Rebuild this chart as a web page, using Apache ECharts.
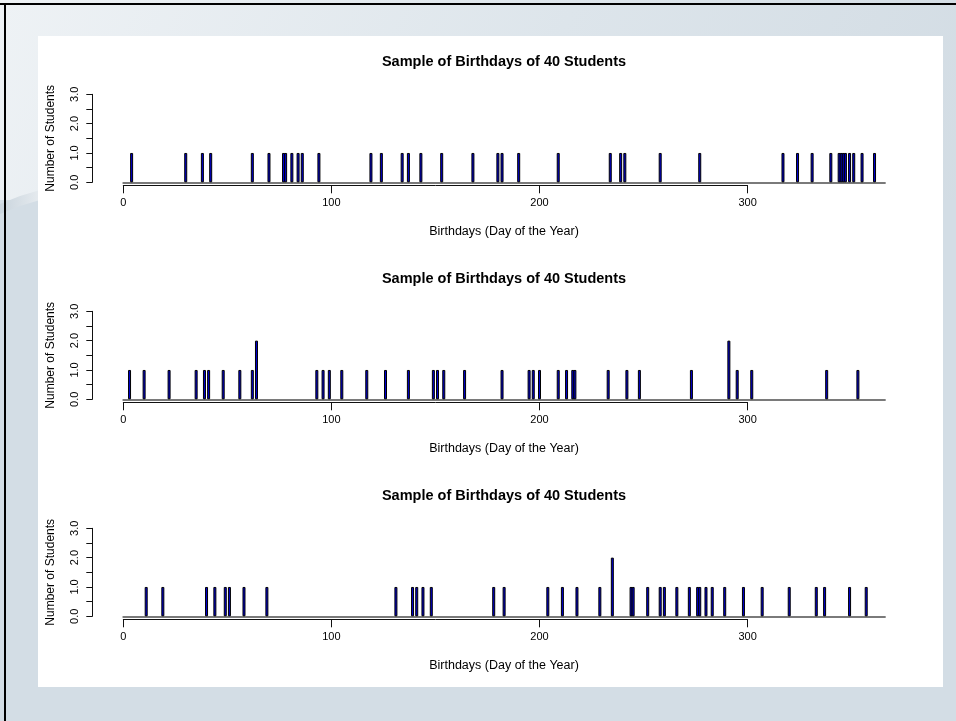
<!DOCTYPE html>
<html>
<head>
<meta charset="utf-8">
<script src="https://cdn.jsdelivr.net/npm/echarts@6/dist/echarts.min.js"></script>
<style>
html,body{margin:0;padding:0;background:#fff;}
#chart{width:956px;height:721px;}
</style>
</head>
<body>
<div id="chart"></div>
<script>
// ---- data: birthdays (day of year) of three samples of 40 students ----
const sample1Days = [4, 30, 38, 42, 62, 70, 77, 78, 81, 84, 86, 94, 119, 124, 134, 137, 143, 153, 168, 180, 182, 190, 209, 234, 239, 241, 258, 277, 317, 324, 331, 340, 344, 345, 346, 347, 349, 351, 355, 361];
const sample2Days = [3, 10, 22, 35, 39, 41, 48, 56, 62, 64, 64, 93, 96, 99, 105, 117, 126, 137, 149, 151, 154, 164, 182, 195, 197, 200, 209, 213, 216, 217, 233, 242, 248, 273, 291, 291, 295, 302, 338, 353];
const sample3Days = [11, 19, 40, 44, 49, 51, 58, 69, 131, 139, 141, 144, 148, 178, 183, 204, 211, 218, 229, 235, 235, 244, 245, 252, 258, 260, 266, 272, 276, 277, 280, 283, 289, 298, 307, 320, 333, 337, 349, 357];
const samples = [sample1Days, sample2Days, sample3Days];
const xTicks = [0, 100, 200, 300];
const yTicks = [0, 0.5, 1, 1.5, 2, 2.5, 3];
const titleText = 'Sample of Birthdays of 40 Students';
const xTitle = 'Birthdays (Day of the Year)';
const yTitle = 'Number of Students';

function countDays(days) {
  const m = new Map();
  days.forEach(d => m.set(d, (m.get(d) || 0) + 1));
  return Array.from(m.entries()).sort((a, b) => a[0] - b[0]);
}

// ---- layout ----
const FONT = '"Liberation Sans", Arial, sans-serif';
const plotLeft = 123.3;
const pxPerDay = 2.081;
const dayMax = 366;
const plotH = 88;
const baselines = [182.3, 399.3, 616.3];
const titleYs = [62, 279, 496];
const xTitleYs = [232, 449, 666];
const centerX = 504;

const grids = [], xAxes = [], yAxes = [], series = [];
const graphics = [];

// background
graphics.push({
  type: 'rect', z: -10, silent: true,
  shape: {x: 0, y: 0, width: 956, height: 721},
  style: {fill: new echarts.graphic.LinearGradient(0, 0, 1, 0.6, [
    {offset: 0, color: '#eef2f5'}, {offset: 0.5, color: '#dde5eb'}, {offset: 1, color: '#d0dae2'}])}
});
graphics.push({
  type: 'rect', z: -9, silent: true,
  shape: {x: 0, y: 200, width: 956, height: 521},
  style: {fill: '#d3dde5'}
});
graphics.push({
  type: 'polygon', z: -8, silent: true,
  shape: {points: [[0, 214], [20, 206], [40, 200], [40, 190], [20, 196], [0, 204]]},
  style: {fill: new echarts.graphic.LinearGradient(0, 0, 1, 0, [
    {offset: 0, color: '#c9d4dd'}, {offset: 1, color: '#e6ebef'}])}
});
// white panel
graphics.push({
  type: 'rect', z: -5, silent: true,
  shape: {x: 38, y: 36, width: 905, height: 651},
  style: {fill: '#ffffff'}
});
// black frame (top and left)
graphics.push({type: 'rect', z: 10, silent: true, shape: {x: 0, y: 3, width: 956, height: 2}, style: {fill: '#000'}});
graphics.push({type: 'rect', z: 10, silent: true, shape: {x: 4, y: 3, width: 2, height: 718}, style: {fill: '#000'}});

samples.forEach((days, i) => {
  const top = baselines[i] - plotH;
  // main plot grid (0..366 days)
  grids.push({left: plotLeft, top: top, width: dayMax * pxPerDay, height: plotH});
  // grid for R-style axis spanning 0..300
  grids.push({left: plotLeft, top: top, width: 300 * pxPerDay, height: plotH});
  const gA = 2 * i, gB = 2 * i + 1;
  xAxes.push({
    type: 'value', gridIndex: gA, min: 0, max: dayMax, position: 'bottom',
    axisLine: {show: true, onZero: false, lineStyle: {color: '#7a7a7a', width: 2}},
    axisTick: {show: false}, axisLabel: {show: false}, splitLine: {show: false}
  });
  xAxes.push({
    type: 'value', gridIndex: gB, min: xTicks[0], max: xTicks[xTicks.length - 1], interval: 100,
    position: 'bottom', offset: 3,
    axisLine: {show: true, onZero: false, lineStyle: {color: '#111', width: 1}},
    axisTick: {show: true, inside: false, length: 8, lineStyle: {color: '#111'}},
    axisLabel: {show: true, margin: 12, color: '#000', fontFamily: FONT, fontSize: 11},
    splitLine: {show: false}
  });
  yAxes.push({
    type: 'value', gridIndex: gA, min: yTicks[0], max: yTicks[yTicks.length - 1], interval: 0.5,
    position: 'left', offset: 31,
    name: yTitle, nameLocation: 'middle', nameGap: 36, nameRotate: 90,
    nameTextStyle: {color: '#000', fontFamily: FONT, fontSize: 12},
    axisLine: {show: true, onZero: false, lineStyle: {color: '#111', width: 1}},
    axisTick: {show: true, inside: false, length: 6, lineStyle: {color: '#111'}},
    axisLabel: {show: true, rotate: 90, margin: 12, color: '#000', fontFamily: FONT, fontSize: 11,
      formatter: v => (v % 1 === 0 ? v.toFixed(1) : '')},
    splitLine: {show: false}
  });
  yAxes.push({
    type: 'value', gridIndex: gB, min: 0, max: 3, show: false
  });
  series.push({
    type: 'bar', xAxisIndex: gA, yAxisIndex: gA,
    data: countDays(days),
    barWidth: 3,
    itemStyle: {color: '#0000d0', borderColor: '#000', borderWidth: 1},
    animation: false, silent: true
  });
  graphics.push({
    type: 'text', x: centerX, y: titleYs[i], z: 5, silent: true,
    style: {text: titleText, textAlign: 'center', textVerticalAlign: 'middle',
      font: 'bold 14.5px ' + FONT, fill: '#000'}
  });
  graphics.push({
    type: 'text', x: centerX, y: xTitleYs[i], z: 5, silent: true,
    style: {text: xTitle, textAlign: 'center', textVerticalAlign: 'middle',
      font: '12.5px ' + FONT, fill: '#000'}
  });
});

const chart = echarts.init(document.getElementById('chart'), null, {renderer: 'canvas'});
chart.setOption({
  animation: false,
  backgroundColor: 'transparent',
  graphic: {elements: graphics},
  grid: grids,
  xAxis: xAxes,
  yAxis: yAxes,
  series: series
});
</script>
</body>
</html>
